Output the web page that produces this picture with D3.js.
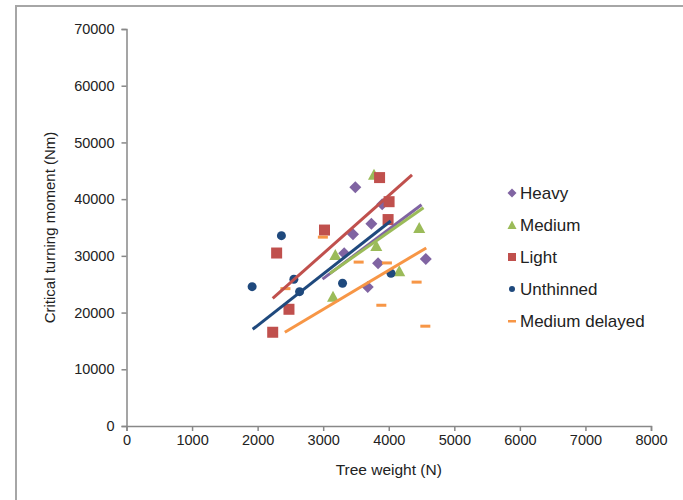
<!DOCTYPE html>
<html>
<head>
<meta charset="utf-8">
<script src="https://cdn.jsdelivr.net/npm/d3@7"></script>
<style>
  body { margin: 0; background: #fff; }
  text { font-family: Arial, "Liberation Sans", sans-serif; fill: #222; }
</style>
</head>
<body>
<div id="chart"></div>
<script>
// series names, in legend order
const seriesNames = ["Heavy", "Medium", "Light", "Unthinned", "Medium delayed"];

// tree weight (N) and critical turning moment (Nm)
const heavyX = [3490, 3900, 3735, 3455, 3320, 3837, 4565, 3680];
const heavyY = [42100, 39100, 35650, 33800, 30450, 28700, 29450, 24500];
const mediumX = [3775, 4465, 3810, 3185, 4160, 3150];
const mediumY = [44300, 34900, 31750, 30150, 27300, 22800];
const lightX = [3860, 4005, 3990, 3020, 2290, 2478, 2230];
const lightY = [43800, 39550, 36400, 34550, 30500, 20580, 16530];
const unthinnedX = [2363, 1916, 2553, 2640, 3295, 4034];
const unthinnedY = [33560, 24570, 25870, 23690, 25170, 26930];
const delayedX = [2995, 2424, 3541, 3972, 4425, 3887, 4558];
const delayedY = [33300, 24220, 28900, 28750, 25370, 21290, 17600];

// linear trend lines: start/end x and y per series
const trendX0 = [2990, 3100, 2230, 1925, 2415];
const trendY0 = [25900, 26900, 22500, 17050, 16530];
const trendX1 = [4500, 4530, 4355, 4030, 4572];
const trendY1 = [39000, 38500, 44270, 36150, 31400];

const xTicks = [0, 1000, 2000, 3000, 4000, 5000, 6000, 7000, 8000];
const yTicks = [0, 10000, 20000, 30000, 40000, 50000, 60000, 70000];

const colors = ["#8064A2", "#9BBB59", "#C0504D", "#1F497D", "#F79646"];
const shapes = ["diamond", "triangle", "square", "circle", "dash"];

const allX = [heavyX, mediumX, lightX, unthinnedX, delayedX];
const allY = [heavyY, mediumY, lightY, unthinnedY, delayedY];
const series = seriesNames.map((name, i) => ({
  name: name,
  color: colors[i],
  shape: shapes[i],
  points: allX[i].map((x, j) => ({ x: x, y: allY[i][j] })),
  trend: { x0: trendX0[i], y0: trendY0[i], x1: trendX1[i], y1: trendY1[i] }
}));

const width = 683, height = 500;
const svg = d3.select("#chart").append("svg")
  .attr("width", width)
  .attr("height", height);

// outer frame
svg.append("rect")
  .attr("x", 16).attr("y", 6)
  .attr("width", 700).attr("height", 520)
  .attr("fill", "none")
  .attr("stroke", "#a6a6a6")
  .attr("stroke-width", 2);

const x = d3.scaleLinear().domain([0, 8000]).range([126.5, 651]);
const y = d3.scaleLinear().domain([0, 70000]).range([426, 29]);

const xAxis = svg.append("g")
  .attr("transform", "translate(0," + y(0) + ")")
  .call(d3.axisBottom(x).tickValues(xTicks).tickSize(5).tickPadding(4).tickFormat(d3.format("d")));
const yAxis = svg.append("g")
  .attr("transform", "translate(" + x(0) + ",0)")
  .call(d3.axisLeft(y).tickValues(yTicks).tickSize(5).tickPadding(7).tickFormat(d3.format("d")));

[xAxis, yAxis].forEach(ax => {
  ax.select(".domain").attr("stroke", "#888").attr("stroke-width", 1.5);
  ax.selectAll(".tick line").attr("stroke", "#888").attr("stroke-width", 1.5);
  ax.selectAll(".tick text")
    .attr("fill", "#111")
    .style("font-family", "Arial, 'Liberation Sans', sans-serif")
    .style("font-size", "14.5px");
});

svg.append("text")
  .attr("x", (x(0) + x(8000)) / 2)
  .attr("y", 475)
  .attr("text-anchor", "middle")
  .style("font-size", "15.5px")
  .text("Tree weight (N)");

svg.append("text")
  .attr("transform", "translate(55," + (y(0) + y(70000)) / 2 + ") rotate(-90)")
  .attr("text-anchor", "middle")
  .style("font-size", "15px")
  .text("Critical turning moment (Nm)");

function drawMarker(g, shape, color) {
  if (shape === "diamond") {
    g.append("path").attr("d", "M0,-6L6,0L0,6L-6,0Z").attr("fill", color);
  } else if (shape === "triangle") {
    g.append("path").attr("d", "M0,-6L6,5L-6,5Z").attr("fill", color);
  } else if (shape === "square") {
    g.append("rect").attr("x", -5.5).attr("y", -5.5).attr("width", 11).attr("height", 11).attr("fill", color);
  } else if (shape === "circle") {
    g.append("circle").attr("r", 4.5).attr("fill", color);
  } else {
    g.append("rect").attr("x", -5).attr("y", -1.5).attr("width", 10).attr("height", 3).attr("fill", color);
  }
}

// markers
series.forEach(s => {
  svg.append("g").selectAll("g")
    .data(s.points)
    .enter().append("g")
    .attr("transform", d => "translate(" + x(d.x) + "," + y(d.y) + ")")
    .each(function () { drawMarker(d3.select(this), s.shape, s.color); });
});

// trend lines
svg.append("g").selectAll("line")
  .data(series)
  .enter().append("line")
  .attr("x1", d => x(d.trend.x0))
  .attr("y1", d => y(d.trend.y0))
  .attr("x2", d => x(d.trend.x1))
  .attr("y2", d => y(d.trend.y1))
  .attr("stroke", d => d.color)
  .attr("stroke-width", 3);

// legend
const legend = svg.append("g").selectAll("g")
  .data(series)
  .enter().append("g")
  .attr("transform", (d, i) => "translate(512," + (193 + i * 32) + ")");
legend.each(function (d) {
  const g = d3.select(this);
  if (d.shape === "diamond") {
    g.append("path").attr("d", "M0,-4.5L4.5,0L0,4.5L-4.5,0Z").attr("fill", d.color);
  } else if (d.shape === "triangle") {
    g.append("path").attr("d", "M0,-4.5L4.5,4L-4.5,4Z").attr("fill", d.color);
  } else if (d.shape === "square") {
    g.append("rect").attr("x", -4).attr("y", -4).attr("width", 8).attr("height", 8).attr("fill", d.color);
  } else if (d.shape === "circle") {
    g.append("circle").attr("r", 3).attr("fill", d.color);
  } else {
    g.append("rect").attr("x", -4).attr("y", -1).attr("width", 8).attr("height", 2.5).attr("fill", d.color);
  }
});
legend.append("text")
  .attr("x", 8)
  .attr("dy", "0.35em")
  .style("font-size", "17px")
  .text(d => d.name);
</script>
</body>
</html>
